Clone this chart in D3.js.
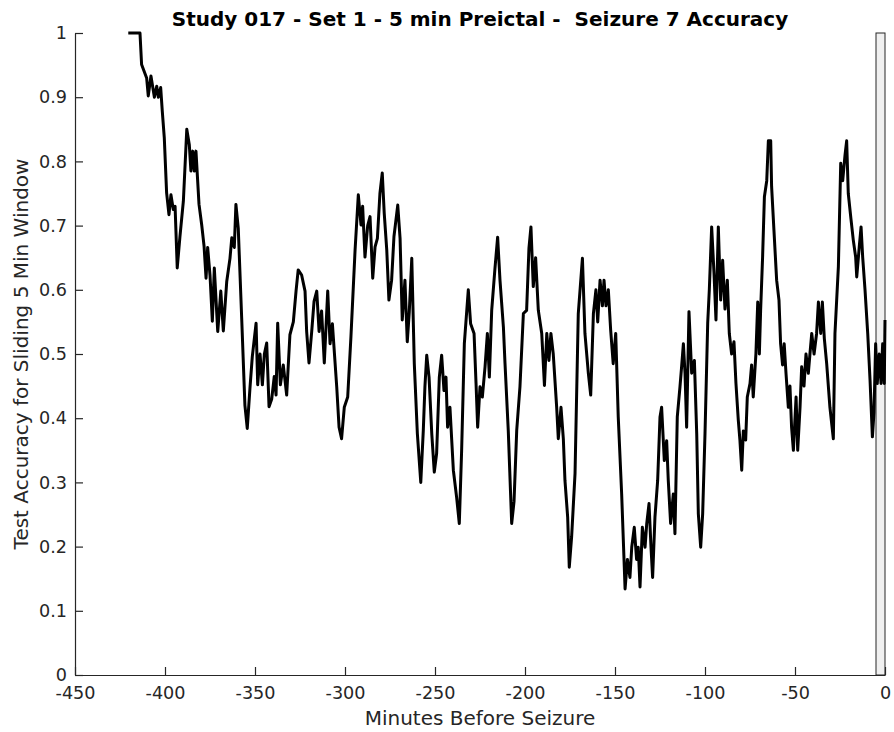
<!DOCTYPE html>
<html>
<head>
<meta charset="utf-8">
<script src="https://cdn.jsdelivr.net/npm/d3@7"></script>
<style>
    body { margin: 0; background: #fff; }
    svg text { font-family: "DejaVu Sans", sans-serif; }
</style>
</head>
<body>
<div id="accuracyChart"></div>
<script>
const titleText = "Study 017 - Set 1 - 5 min Preictal -  Seizure 7 Accuracy";
const xLabel = "Minutes Before Seizure";
const yLabel = "Test Accuracy for Sliding 5 Min Window";

const xTicks = [-450, -400, -350, -300, -250, -200, -150, -100, -50, 0];
const xTickLabels = ["-450", "-400", "-350", "-300", "-250", "-200", "-150", "-100", "-50", "0"];
const yTicks = [0, 0.1, 0.2, 0.3, 0.4, 0.5, 0.6, 0.7, 0.8, 0.9, 1];
const yTickLabels = ["0", "0.1", "0.2", "0.3", "0.4", "0.5", "0.6", "0.7", "0.8", "0.9", "1"];

// preictal window shaded at the end
const preictalStart = -5, preictalEnd = 0;

// minutes before seizure
const minutes = [
    -420.4, -413.9, -413.0, -410.2, -409.3, -407.8, -405.9, -404.6, -403.7, -402.4,
    -401.5, -400.4, -399.1, -397.8, -396.7, -395.4, -394.4, -393.2, -391.7, -389.8,
    -387.9, -386.5, -385.6, -384.6, -383.7, -382.8, -381.1, -379.6, -378.3, -377.2,
    -376.3, -375.0, -373.7, -372.6, -370.7, -369.0, -367.6, -365.7, -363.9, -362.9,
    -361.5, -360.6, -359.3, -357.4, -355.6, -354.3, -352.8, -351.5, -349.4, -348.5,
    -347.2, -345.9, -344.8, -343.5, -342.2, -340.7, -339.3, -338.3, -337.4, -335.9,
    -334.3, -332.4, -330.6, -328.7, -327.2, -326.0, -324.1, -322.2, -321.3, -320.0,
    -318.5, -317.2, -315.7, -314.4, -313.0, -311.5, -309.6, -308.3, -307.0, -304.6,
    -303.3, -301.9, -300.4, -298.5, -296.7, -294.4, -292.6, -291.1, -290.2, -288.9,
    -287.4, -286.1, -284.6, -283.3, -282.0, -280.6, -279.3, -278.2, -276.8, -275.6,
    -274.1, -272.8, -270.7, -269.4, -268.2, -266.7, -265.4, -264.3, -262.9, -261.5,
    -259.8, -257.9, -256.5, -255.6, -254.6, -253.3, -251.8, -250.4, -249.1, -247.6,
    -246.3, -245.0, -243.9, -243.0, -241.7, -239.8, -238.0, -236.5, -235.2, -233.7,
    -231.5, -230.2, -228.3, -227.2, -226.3, -225.0, -223.7, -222.2, -220.9, -219.8,
    -218.5, -216.7, -215.2, -213.9, -212.0, -211.1, -209.3, -207.4, -206.1, -204.6,
    -202.8, -200.9, -199.1, -197.8, -196.7, -195.4, -194.1, -192.6, -190.7, -189.2,
    -187.9, -186.7, -185.6, -184.3, -182.4, -181.5, -180.0, -178.7, -177.8, -176.3,
    -175.4, -174.1, -172.2, -170.4, -168.1, -166.7, -164.8, -163.5, -162.0, -160.6,
    -159.6, -158.3, -157.0, -156.1, -155.0, -153.7, -152.4, -151.0, -149.6, -148.2,
    -146.3, -144.4, -143.1, -141.7, -140.7, -139.3, -138.0, -137.1, -136.1, -134.8,
    -133.3, -132.4, -131.1, -130.0, -129.1, -127.8, -126.3, -125.0, -124.1, -122.6,
    -121.3, -120.4, -119.1, -117.6, -116.7, -115.4, -113.9, -113.0, -112.0, -111.1,
    -110.2, -108.9, -107.4, -105.9, -104.6, -103.7, -102.4, -101.3, -100.0, -98.5,
    -97.6, -96.3, -95.0, -93.9, -92.6, -91.3, -90.2, -88.9, -87.6, -86.5,
    -85.2, -83.9, -82.8, -81.5, -80.6, -79.6, -78.7, -77.4, -76.5, -75.0,
    -74.1, -73.2, -71.7, -70.7, -69.8, -69.1, -68.0, -67.0, -65.7, -64.8,
    -63.5, -63.0, -61.7, -60.2, -58.9, -58.0, -56.9, -56.0, -55.0, -53.7,
    -52.8, -51.9, -50.9, -49.4, -48.5, -47.2, -46.3, -45.0, -43.9, -42.6,
    -41.7, -40.7, -39.4, -38.0, -37.0, -35.7, -34.8, -33.7, -32.4, -30.6,
    -28.7, -27.8, -25.9, -24.6, -23.5, -22.2, -21.3, -20.4, -18.9, -17.6,
    -16.3, -15.7, -14.3, -13.3, -12.4, -11.1, -9.6, -8.3, -7.0, -6.1,
    -5.2, -4.3, -3.2, -2.2, -1.3, -0.4, 0.0
];

// test accuracy for each of those minutes
const accuracy = [
    1.000, 1.000, 0.951, 0.930, 0.902, 0.933, 0.900, 0.917, 0.900, 0.915,
    0.878, 0.837, 0.751, 0.717, 0.748, 0.725, 0.730, 0.634, 0.683, 0.738,
    0.850, 0.826, 0.785, 0.816, 0.785, 0.816, 0.733, 0.701, 0.668, 0.618,
    0.666, 0.623, 0.551, 0.634, 0.535, 0.598, 0.536, 0.613, 0.649, 0.681,
    0.666, 0.733, 0.696, 0.556, 0.420, 0.384, 0.447, 0.496, 0.548, 0.452,
    0.500, 0.452, 0.500, 0.517, 0.418, 0.430, 0.465, 0.436, 0.548, 0.452,
    0.483, 0.436, 0.530, 0.550, 0.598, 0.631, 0.623, 0.598, 0.535, 0.486,
    0.535, 0.582, 0.598, 0.535, 0.567, 0.486, 0.598, 0.516, 0.547, 0.449,
    0.386, 0.368, 0.417, 0.433, 0.527, 0.662, 0.748, 0.701, 0.730, 0.651,
    0.700, 0.714, 0.618, 0.667, 0.680, 0.750, 0.782, 0.719, 0.662, 0.584,
    0.615, 0.683, 0.732, 0.680, 0.553, 0.615, 0.519, 0.565, 0.649, 0.485,
    0.376, 0.300, 0.381, 0.449, 0.498, 0.464, 0.376, 0.316, 0.345, 0.464,
    0.498, 0.443, 0.464, 0.386, 0.417, 0.319, 0.277, 0.236, 0.350, 0.516,
    0.600, 0.547, 0.532, 0.454, 0.386, 0.449, 0.433, 0.480, 0.532, 0.464,
    0.568, 0.633, 0.682, 0.615, 0.542, 0.485, 0.381, 0.236, 0.270, 0.381,
    0.449, 0.563, 0.568, 0.665, 0.698, 0.605, 0.650, 0.568, 0.532, 0.451,
    0.532, 0.490, 0.532, 0.500, 0.417, 0.368, 0.417, 0.368, 0.303, 0.246,
    0.168, 0.215, 0.314, 0.563, 0.649, 0.532, 0.470, 0.436, 0.563, 0.600,
    0.550, 0.615, 0.575, 0.615, 0.575, 0.600, 0.537, 0.485, 0.532, 0.402,
    0.282, 0.134, 0.180, 0.152, 0.199, 0.230, 0.180, 0.199, 0.137, 0.230,
    0.199, 0.235, 0.267, 0.199, 0.152, 0.246, 0.303, 0.402, 0.417, 0.334,
    0.365, 0.303, 0.236, 0.282, 0.220, 0.402, 0.449, 0.480, 0.516, 0.470,
    0.386, 0.566, 0.470, 0.490, 0.376, 0.251, 0.199, 0.251, 0.376, 0.548,
    0.600, 0.698, 0.626, 0.553, 0.698, 0.584, 0.646, 0.570, 0.615, 0.532,
    0.500, 0.519, 0.454, 0.397, 0.366, 0.319, 0.380, 0.366, 0.433, 0.454,
    0.483, 0.433, 0.501, 0.581, 0.500, 0.568, 0.651, 0.745, 0.770, 0.832,
    0.832, 0.761, 0.693, 0.615, 0.584, 0.516, 0.483, 0.516, 0.470, 0.417,
    0.450, 0.386, 0.350, 0.433, 0.350, 0.417, 0.480, 0.450, 0.500, 0.470,
    0.500, 0.532, 0.500, 0.532, 0.581, 0.532, 0.581, 0.524, 0.485, 0.417,
    0.368, 0.532, 0.636, 0.797, 0.770, 0.810, 0.832, 0.750, 0.710, 0.677,
    0.651, 0.620, 0.667, 0.698, 0.651, 0.600, 0.532, 0.459, 0.371, 0.410,
    0.516, 0.454, 0.500, 0.454, 0.516, 0.454, 0.553
];

const margin = {top: 33, right: 9, bottom: 57, left: 75},
    width = 894 - margin.left - margin.right,
    height = 732 - margin.top - margin.bottom;

const axisColor = "#262626";

const root = d3.select("#accuracyChart")
    .append("svg")
    .attr("width", width + margin.left + margin.right)
    .attr("height", height + margin.top + margin.bottom);

const svg = root.append("g")
    .attr("transform", `translate(${margin.left},${margin.top})`);

const x = d3.scaleLinear()
    .domain([-450, 0])
    .range([0, width]);

const y = d3.scaleLinear()
    .domain([0, 1])
    .range([height, 0]);

// shaded preictal block
svg.append("rect")
    .attr("x", x(preictalStart))
    .attr("y", y(1))
    .attr("width", x(preictalEnd) - x(preictalStart))
    .attr("height", y(0) - y(1))
    .attr("fill", "#f0f0f0")
    .attr("stroke", axisColor)
    .attr("stroke-width", 1);

// axes, ticks pointing inwards like matlab
const xAxis = svg.append("g")
    .attr("transform", `translate(0, ${height})`)
    .call(d3.axisBottom(x)
        .tickValues(xTicks)
        .tickFormat((d, i) => xTickLabels[i])
        .tickSizeInner(-8)
        .tickSizeOuter(0)
        .tickPadding(12));

const yAxis = svg.append("g")
    .call(d3.axisLeft(y)
        .tickValues(yTicks)
        .tickFormat((d, i) => yTickLabels[i])
        .tickSizeInner(-8)
        .tickSizeOuter(0)
        .tickPadding(8));

[xAxis, yAxis].forEach(g => {
    g.select(".domain").attr("stroke", axisColor).attr("stroke-width", 1.2);
    g.selectAll(".tick line").attr("stroke", axisColor).attr("stroke-width", 1.2);
    g.selectAll(".tick text")
        .attr("fill", axisColor)
        .style("font-size", "17.6px")
        .style("font-family", "DejaVu Sans");
});

// accuracy trace
const points = minutes.map((m, i) => ({m: m, a: accuracy[i]}));

const line = d3.line()
    .x(d => x(d.m))
    .y(d => y(d.a));

svg.append("path")
    .datum(points)
    .attr("d", line)
    .attr("fill", "none")
    .attr("stroke", "#000")
    .attr("stroke-width", 3)
    .attr("stroke-linejoin", "round");

// labels
root.append("text")
    .attr("x", margin.left + width / 2)
    .attr("y", 26)
    .attr("text-anchor", "middle")
    .style("font-size", "20px")
    .style("font-weight", "bold")
    .style("white-space", "pre")
    .attr("fill", "#000")
    .text(titleText);

root.append("text")
    .attr("x", margin.left + width / 2)
    .attr("y", 725)
    .attr("text-anchor", "middle")
    .style("font-size", "20px")
    .attr("fill", axisColor)
    .text(xLabel);

root.append("text")
    .attr("transform", `translate(28, ${margin.top + height / 2}) rotate(-90)`)
    .attr("text-anchor", "middle")
    .style("font-size", "20px")
    .attr("fill", axisColor)
    .text(yLabel);
</script>
</body>
</html>
